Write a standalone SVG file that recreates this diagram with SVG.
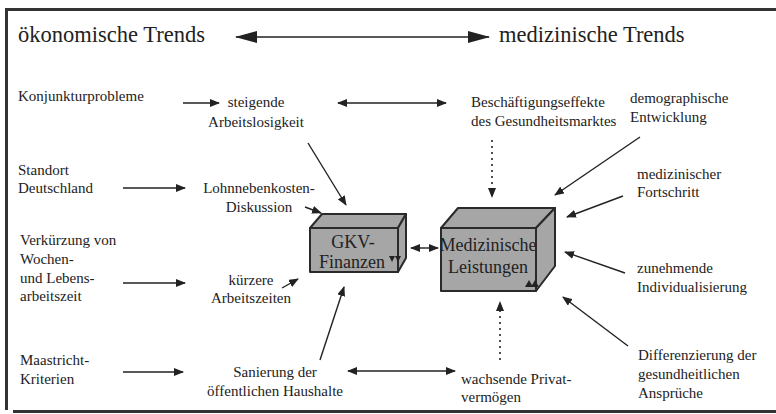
<svg xmlns="http://www.w3.org/2000/svg" width="776" height="414" viewBox="0 0 776 414">
<style>
text{font-family:'Liberation Serif','DejaVu Serif','Times New Roman',serif;fill:#222}
.t{font-size:15px}
.h{font-size:22.5px}
.b{font-size:18px}
.ln{stroke:#222;stroke-width:1.4;fill:none}
.dt{stroke:#222;stroke-width:1.6;fill:none;stroke-dasharray:2 4}
.face{fill:#a6a6a6;stroke:#2a2a2a;stroke-width:2;stroke-linejoin:round}
.frame{stroke:#333;fill:none}
</style>
<defs>
<marker id="a" viewBox="0 0 10 8" refX="9" refY="4" markerWidth="10" markerHeight="8" markerUnits="userSpaceOnUse" orient="auto-start-reverse"><path d="M0,0 L10,4 L0,8 Z" fill="#222"/></marker>
<marker id="big" viewBox="0 0 22 12" refX="21" refY="6" markerWidth="22" markerHeight="12" markerUnits="userSpaceOnUse" orient="auto-start-reverse"><path d="M0,0 L22,6 L0,12 Z" fill="#222"/></marker>
</defs>
<rect width="776" height="414" fill="#fff"/>
<g id="frame">
<line class="frame" x1="5" y1="9.5" x2="776" y2="9.5" stroke-width="3"/>
<line class="frame" x1="6.5" y1="8" x2="6.5" y2="410" stroke-width="3"/>
<line class="frame" x1="13" y1="411.5" x2="776" y2="411.5" stroke-width="3"/>
</g>
<g font-family="Liberation Serif, DejaVu Serif, serif">
<g id="title-oeko"><text class="h" x="18" y="42">ökonomische Trends</text></g>
<g id="title-med"><text class="h" x="499" y="42">medizinische Trends</text></g>
<g id="konjunktur"><text class="t" x="18" y="101">Konjunkturprobleme</text></g>
<g id="steigende"><text class="t" x="256" y="107" text-anchor="middle">steigende</text><text class="t" x="256" y="127" text-anchor="middle">Arbeitslosigkeit</text></g>
<g id="beschaeftigung"><text class="t" x="471" y="107">Beschäftigungseffekte</text><text class="t" x="471" y="126">des Gesundheitsmarktes</text></g>
<g id="demographie"><text class="t" x="630" y="103">demographische</text><text class="t" x="630" y="122">Entwicklung</text></g>
<g id="standort"><text class="t" x="18" y="175">Standort</text><text class="t" x="18" y="193">Deutschland</text></g>
<g id="lohnneben"><text class="t" x="259" y="193" text-anchor="middle">Lohnnebenkosten-</text><text class="t" x="259" y="212" text-anchor="middle">Diskussion</text></g>
<g id="fortschritt"><text class="t" x="637" y="179">medizinischer</text><text class="t" x="637" y="197">Fortschritt</text></g>
<g id="verkuerzung"><text class="t" x="20" y="245">Verkürzung von</text><text class="t" x="20" y="264">Wochen-</text><text class="t" x="20" y="283">und Lebens-</text><text class="t" x="20" y="301">arbeitszeit</text></g>
<g id="kuerzere"><text class="t" x="251" y="285" text-anchor="middle">kürzere</text><text class="t" x="251" y="303" text-anchor="middle">Arbeitszeiten</text></g>
<g id="individual"><text class="t" x="637" y="273">zunehmende</text><text class="t" x="637" y="292">Individualisierung</text></g>
<g id="maastricht"><text class="t" x="20" y="365">Maastricht-</text><text class="t" x="20" y="384">Kriterien</text></g>
<g id="sanierung"><text class="t" x="275" y="377" text-anchor="middle">Sanierung der</text><text class="t" x="275" y="396" text-anchor="middle">öffentlichen Haushalte</text></g>
<g id="privat"><text class="t" x="461" y="384">wachsende Privat-</text><text class="t" x="461" y="402">vermögen</text></g>
<g id="differenzierung"><text class="t" x="638" y="360">Differenzierung der</text><text class="t" x="638" y="379">gesundheitlichen</text><text class="t" x="638" y="398">Ansprüche</text></g>
<g id="gkv">
<polygon class="face" points="310,228 322,214 406,214 398,228"/>
<polygon class="face" points="398,228 406,214 406,258 398,272"/>
<rect class="face" x="310" y="228" width="88" height="44"/>
<polygon points="389,256 395,256 392,262" fill="#222"/><polygon points="395,256 401,256 398,262" fill="#222"/>
<text class="b" x="353" y="248" text-anchor="middle">GKV-</text>
<text class="b" x="352" y="268" text-anchor="middle">Finanzen</text>
</g>
<g id="medizin">
<polygon class="face" points="441,228 458,208 555,208 536,228"/>
<polygon class="face" points="536,228 555,208 555,266 536,291"/>
<rect class="face" x="441" y="228" width="95" height="63"/>
<polygon points="525,287 529,280 533,287" fill="#222"/><polygon points="531,287 535,280 539,287" fill="#222"/>
<text class="b" x="488" y="251" text-anchor="middle">Medizinische</text>
<text class="b" x="488" y="273" text-anchor="middle">Leistungen</text>
</g>
</g>
<g id="connectors">
<line class="ln" x1="236" y1="37" x2="489" y2="37" stroke-width="3" marker-start="url(#big)" marker-end="url(#big)"/>
<line class="ln" x1="183" y1="103" x2="219" y2="103" marker-end="url(#a)"/>
<line class="ln" x1="338" y1="103" x2="446" y2="103" marker-start="url(#a)" marker-end="url(#a)"/>
<line class="dt" x1="492" y1="140" x2="492" y2="197" marker-end="url(#a)"/>
<line class="ln" x1="640" y1="137" x2="555" y2="195" marker-end="url(#a)"/>
<line class="ln" x1="123" y1="188" x2="185" y2="188" marker-end="url(#a)"/>
<line class="ln" x1="308" y1="143" x2="346" y2="205" marker-end="url(#a)"/>
<line class="ln" x1="305" y1="207" x2="321" y2="213" marker-end="url(#a)"/>
<line class="ln" x1="623" y1="196" x2="567" y2="217" marker-end="url(#a)"/>
<line class="ln" x1="411" y1="248" x2="438" y2="248" marker-start="url(#a)" marker-end="url(#a)"/>
<line class="ln" x1="123" y1="283" x2="185" y2="283" marker-end="url(#a)"/>
<line class="ln" x1="282" y1="288" x2="298" y2="279" marker-end="url(#a)"/>
<line class="ln" x1="625" y1="273" x2="565" y2="252" marker-end="url(#a)"/>
<line class="ln" x1="320" y1="360" x2="344" y2="287" marker-end="url(#a)"/>
<line class="dt" x1="500" y1="360" x2="500" y2="302" marker-end="url(#a)"/>
<line class="ln" x1="628" y1="346" x2="563" y2="297" marker-end="url(#a)"/>
<line class="ln" x1="123" y1="372" x2="183" y2="372" marker-end="url(#a)"/>
<line class="ln" x1="348" y1="371" x2="455" y2="371" marker-start="url(#a)" marker-end="url(#a)"/>
</g>
</svg>
